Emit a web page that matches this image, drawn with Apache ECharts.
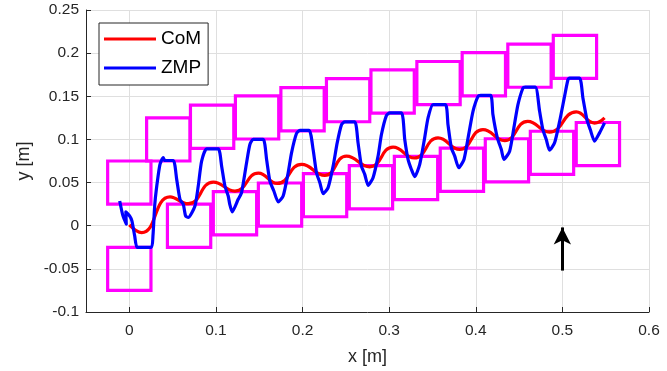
<!DOCTYPE html>
<html>
<head>
<meta charset="utf-8" />
<title>CoM / ZMP</title>
<script src="https://cdn.jsdelivr.net/npm/echarts@6/dist/echarts.min.js"></script>
<style>
  html, body { margin: 0; padding: 0; background: #fff; }
  #chart { width: 667px; height: 371px; }
</style>
</head>
<body>
<div id="chart"></div>
<script>
const xTicks = [0, 0.1, 0.2, 0.3, 0.4, 0.5, 0.6];

// footprint centres (left foot row / right foot row)
const footTopX = [0, 0.045, 0.0956, 0.1475, 0.2, 0.2526, 0.304, 0.357, 0.4093, 0.462, 0.5145];
const footTopY = [0.05, 0.1, 0.1147, 0.1255, 0.135, 0.1455, 0.1555, 0.1653, 0.1755, 0.1855, 0.1957];
const footBotX = [0, 0.069, 0.122, 0.174, 0.226, 0.279, 0.331, 0.384, 0.436, 0.488, 0.541];
const footBotY = [-0.05, 0, 0.0144, 0.0245, 0.0354, 0.0446, 0.0553, 0.0649, 0.0758, 0.0845, 0.0946];
const footHalf = 0.025;

const comX = [0, 0.0143, 0.047, 0.068, 0.097, 0.122, 0.149, 0.171, 0.1988, 0.2257, 0.2507, 0.2776,
  0.3045, 0.329, 0.3564, 0.3814, 0.4083, 0.4333, 0.46, 0.485, 0.516, 0.537, 0.5487];
const comY = [0.001, -0.0079, 0.0335, 0.0255, 0.0505, 0.0402, 0.061, 0.049, 0.071, 0.0583, 0.0806, 0.0683,
  0.091, 0.0785, 0.1018, 0.0883, 0.1114, 0.0987, 0.121, 0.1085, 0.1319, 0.119, 0.125];

const zmpX = [-0.0111, -0.0075, -0.0035, -0.004, 0.0005, 0.003, 0.0062, 0.0092, 0.0254, 0.0273,
  0.0293, 0.0312, 0.0354, 0.0392, 0.041, 0.0508, 0.0547, 0.0585, 0.0623, 0.065,
  0.068, 0.0758, 0.0796, 0.0835, 0.0893, 0.1027, 0.1066, 0.1104, 0.1142, 0.116,
  0.1188, 0.1257, 0.1296, 0.1354, 0.1392, 0.143, 0.1546, 0.1585, 0.1623, 0.1669,
  0.1719, 0.1776, 0.1834, 0.1873, 0.193, 0.1969, 0.2076, 0.2122, 0.2161, 0.22,
  0.2238, 0.2295, 0.2353, 0.24, 0.245, 0.2488, 0.2603, 0.2641, 0.268, 0.2718,
  0.2757, 0.2814, 0.2872, 0.2911, 0.2968, 0.3007, 0.3142, 0.318, 0.3218, 0.3257,
  0.3295, 0.3353, 0.341, 0.3449, 0.3507, 0.365, 0.3679, 0.3718, 0.3757, 0.3803,
  0.3864, 0.3918, 0.3968, 0.4026, 0.4057, 0.4172, 0.4198, 0.4249, 0.4295, 0.4325,
  0.4391, 0.444, 0.4487, 0.4545, 0.4572, 0.4687, 0.4737, 0.4775, 0.4814, 0.4852,
  0.491, 0.4968, 0.5025, 0.5064, 0.5083, 0.5198, 0.5237, 0.5283, 0.5322, 0.5371,
  0.5429, 0.5487];
const zmpY = [0.0286, 0.012, 0.002, 0.016, 0.011, 0.0056, -0.0118, -0.0252, -0.0252, -0.0118,
  0.0229, 0.042, 0.071, 0.0788, 0.0756, 0.0756, 0.0537, 0.0306, 0.0248, 0.0113,
  0.0095, 0.0229, 0.046, 0.0748, 0.0891, 0.0891, 0.069, 0.046, 0.0344, 0.0248,
  0.016, 0.0306, 0.0383, 0.073, 0.0941, 0.1, 0.1, 0.0768, 0.0517, 0.0402,
  0.0275, 0.0344, 0.0614, 0.0845, 0.1068, 0.1106, 0.1106, 0.0883, 0.0614, 0.0499,
  0.0372, 0.0441, 0.069, 0.096, 0.1172, 0.1203, 0.1203, 0.096, 0.069, 0.0595,
  0.0468, 0.0557, 0.0806, 0.1057, 0.1276, 0.1307, 0.1307, 0.0999, 0.0768, 0.0652,
  0.0568, 0.071, 0.1018, 0.1249, 0.1403, 0.1403, 0.1172, 0.0903, 0.0806, 0.0672,
  0.0768, 0.1057, 0.1326, 0.1499, 0.151, 0.151, 0.1288, 0.1018, 0.0883, 0.0768,
  0.0864, 0.1134, 0.1403, 0.1596, 0.1607, 0.1607, 0.1326, 0.1114, 0.0999, 0.0875,
  0.0961, 0.121, 0.1499, 0.1692, 0.1711, 0.1711, 0.148, 0.123, 0.1114, 0.0979,
  0.1076, 0.1192];

const arrowX = [0.5, 0.5];
const arrowY = [-0.052, -0.002];

const FONT = '"Liberation Sans", Arial, Helvetica, sans-serif';
const AXIS_COLOR = "#262626";
const GRID_COLOR = "#dfdfdf";

const pairs = (xs, ys) => xs.map((x, i) => [x, ys[i]]);
const square = (cx, cy) => [
  [cx - footHalf, cy - footHalf],
  [cx + footHalf, cy - footHalf],
  [cx + footHalf, cy + footHalf],
  [cx - footHalf, cy + footHalf],
  [cx - footHalf, cy - footHalf],
];

const footSeries = pairs(footTopX, footTopY)
  .concat(pairs(footBotX, footBotY))
  .map(([cx, cy]) => ({
    type: "line",
    data: square(cx, cy),
    showSymbol: false,
    silent: true,
    z: 1,
    lineStyle: { color: "#ff00ff", width: 3.2, cap: "square", join: "miter" },
  }));

const chart = echarts.init(document.getElementById("chart"));
chart.setOption({
  animation: false,
  backgroundColor: "#fff",
  grid: { left: 86, right: 18, top: 10, bottom: 58 },
  legend: {
    data: ["CoM", "ZMP"],
    orient: "vertical",
    left: 99,
    top: 23,
    padding: [6, 7, 7, 5],
    itemWidth: 52,
    itemHeight: 3,
    itemGap: 9,
    icon: "rect",
    borderColor: AXIS_COLOR,
    borderWidth: 1,
    backgroundColor: "#fff",
    textStyle: { fontSize: 19, fontFamily: FONT, color: "#000", lineHeight: 20 },
  },
  xAxis: {
    type: "value",
    min: -0.05,
    max: 0.6,
    name: "x [m]",
    nameLocation: "middle",
    nameGap: 36,
    nameTextStyle: { fontSize: 18, fontFamily: FONT, color: AXIS_COLOR },
    axisLine: { show: true, onZero: false, lineStyle: { color: AXIS_COLOR, width: 1 } },
    axisTick: { show: true, inside: true, length: 5, customValues: xTicks, lineStyle: { color: AXIS_COLOR } },
    axisLabel: { customValues: xTicks, fontSize: 15.5, fontFamily: FONT, color: AXIS_COLOR, margin: 11 },
    splitLine: { show: true, lineStyle: { color: GRID_COLOR, width: 1 } },
  },
  yAxis: {
    type: "value",
    min: -0.1,
    max: 0.25,
    interval: 0.05,
    name: "y [m]",
    nameLocation: "middle",
    nameGap: 50,
    nameTextStyle: { fontSize: 18, fontFamily: FONT, color: AXIS_COLOR },
    axisLine: { show: true, onZero: false, lineStyle: { color: AXIS_COLOR, width: 1 } },
    axisTick: { show: true, inside: true, length: 5, lineStyle: { color: AXIS_COLOR } },
    axisLabel: { fontSize: 15.5, fontFamily: FONT, color: AXIS_COLOR, margin: 7 },
    splitLine: { show: true, lineStyle: { color: GRID_COLOR, width: 1 } },
  },
  series: footSeries.concat([
    {
      name: "CoM",
      type: "line",
      data: pairs(comX, comY),
      showSymbol: false,
      smooth: 0.5,
      z: 2,
      color: "#ff0000",
      lineStyle: { color: "#ff0000", width: 3.2 },
    },
    {
      name: "ZMP",
      type: "line",
      data: pairs(zmpX, zmpY),
      showSymbol: false,
      smooth: 0.2,
      z: 3,
      color: "#0000ff",
      lineStyle: { color: "#0000ff", width: 3.2, join: "round" },
    },
    {
      type: "line",
      data: [],
      silent: true,
      z: 4,
      markLine: {
        silent: true,
        symbol: ["none", "arrow"],
        symbolSize: [13, 17],
        label: { show: false },
        lineStyle: { color: "#000", width: 3, type: "solid" },
        data: [[{ coord: [arrowX[0], arrowY[0]] }, { coord: [arrowX[1], arrowY[1]] }]],
      },
    },
  ]),
});
</script>
</body>
</html>
